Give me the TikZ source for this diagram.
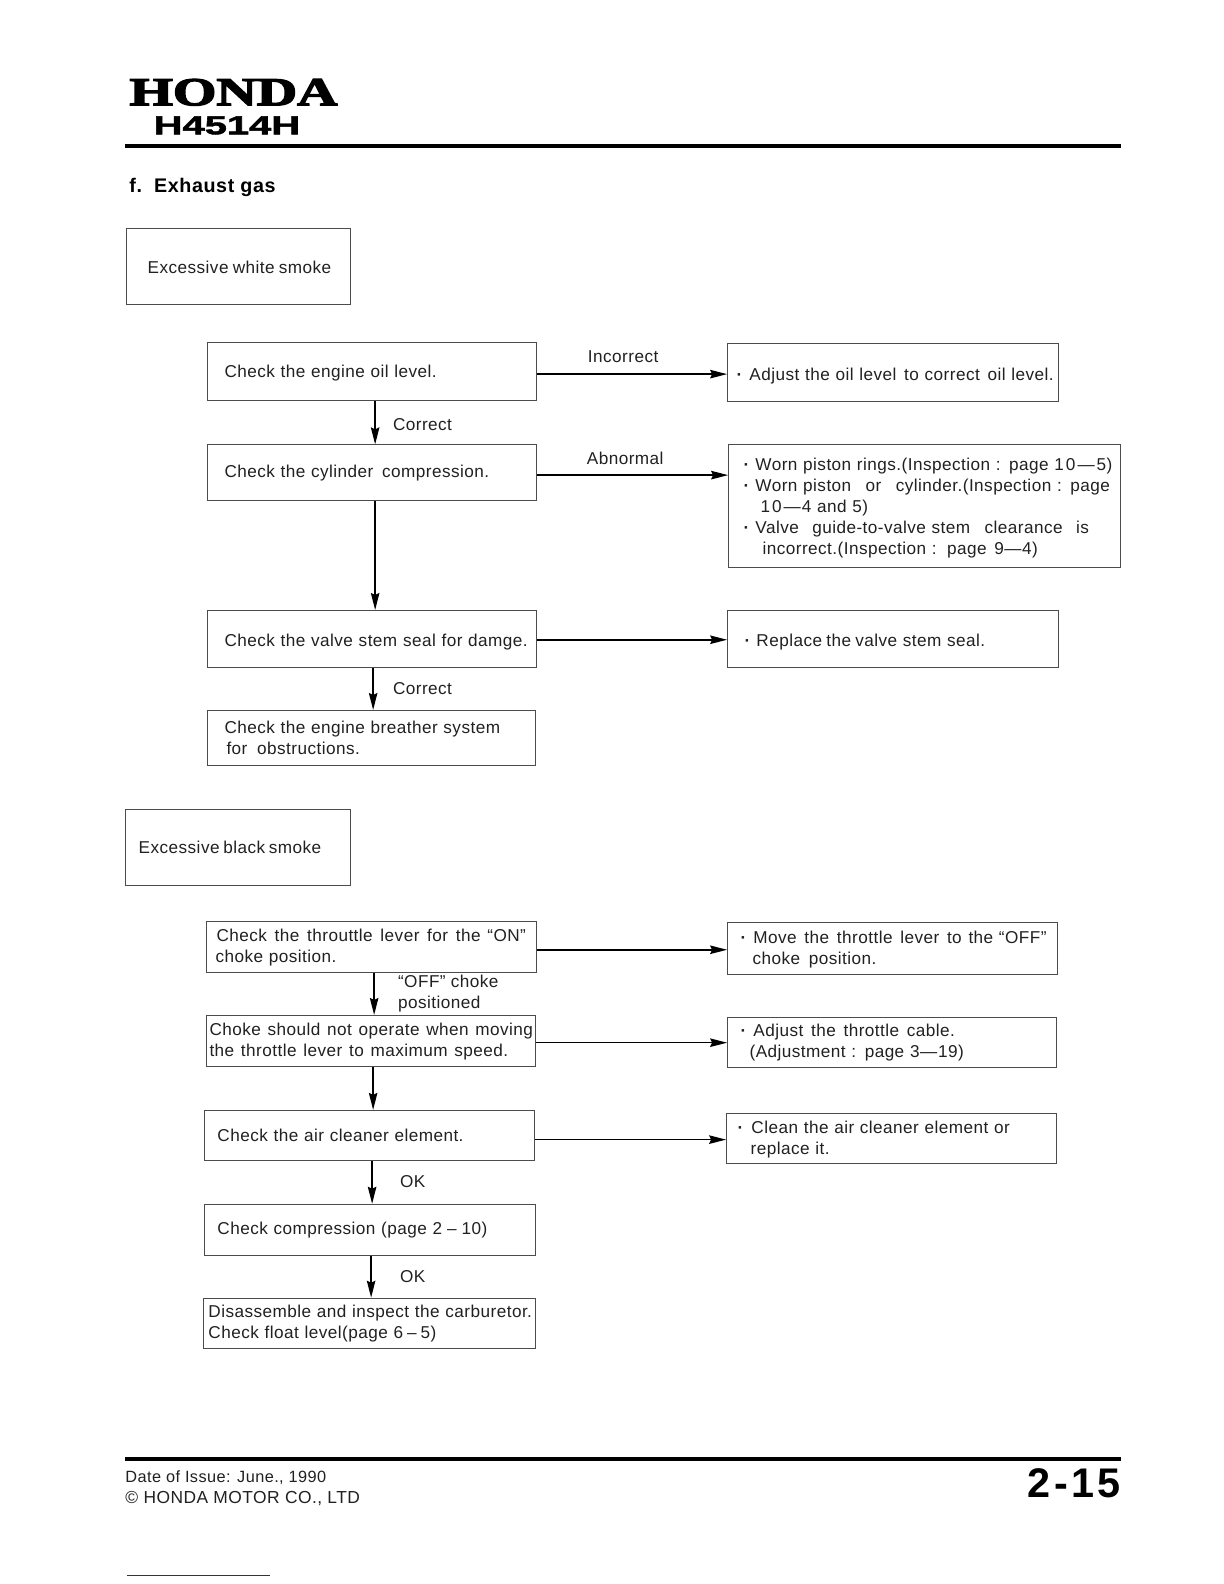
\documentclass[tikz,border=0pt]{standalone}
\usepackage{fontspec}
\usepackage{graphicx}
\setmainfont{Liberation Sans}[LetterSpace=2.6]
\newfontfamily\plainfont{Liberation Sans}
\newfontfamily\pagefont{Liberation Sans}[LetterSpace=8]
\newfontfamily\titlefont{Liberation Sans}[LetterSpace=3]
\newfontfamily\logofont{Liberation Serif}[FakeBold=3]
\newfontfamily\codefont{Liberation Sans}[FakeBold=1.5]
\usetikzlibrary{arrows.meta}
\definecolor{ink}{gray}{0.13}
\definecolor{boxline}{gray}{0.3}
\definecolor{linkblue}{RGB}{20,40,200}
\newcommand{\kk}{1.0099}
\tikzset{
  x=\kk pt,y=-\kk pt,
  boxnode/.style={draw=boxline,line width=1pt,inner sep=0pt,anchor=north west,align=left,text=ink,font=\fontsize{17.17}{21}\selectfont},
  lbl/.style={inner sep=0pt,anchor=west,align=left,text=ink,font=\fontsize{17.17}{21}\selectfont},
  flow/.style={draw=black,line width=1.5pt,-{Stealth[length=17pt,width=8.5pt,inset=2pt]}},
  rule/.style={draw=black,line width=4pt}
}
\newcommand{\flowbox}[6]{%
  \pgfmathsetmacro{\bw}{(#4-#2)*\kk}\pgfmathsetmacro{\bh}{(#5-#3)*\kk}%
  \node[boxnode,minimum width=\bw pt,minimum height=\bh pt,text width=\bw pt] (#1) at (#2,#3) {#6};}
\newcommand{\ind}[1]{\hspace*{#1pt}}
\newcommand{\dotb}{{\fontsize{17}{17}\selectfont\textbf{·}}\ }
\newcommand{\gp}[1]{\hspace{#1pt}}
\newcommand{\dn}[1]{\rule{0pt}{\dimexpr 12.5pt+#1pt*2\relax}}
\begin{document}
\begin{tikzpicture}
\useasboundingbox (0,0) rectangle (1212,1568.5);
\fill[white] (0,0) rectangle (1212,1568.5);
% header
\node[inner sep=0pt,anchor=north west] (logo) at (128,78) {\resizebox{208pt}{26.3pt}{\logofont\bfseries HONDA}};
\node[inner sep=0pt,anchor=north west] (code) at (152,115) {\resizebox{146.5pt}{18pt}{\codefont\bfseries H4514H}};
\coordinate (ruleAl) at (124,145); \coordinate (ruleAr) at (1110,145);
\draw[rule] (ruleAl) -- (ruleAr);
\node[lbl,font=\titlefont\fontsize{19.7}{22}\selectfont\bfseries,text=black] (title) at (128,186) {f.\gp{4} Exhaust gas};
% white smoke
\flowbox{b1}{125}{226}{347}{301}{\dn{1}\ind{21}Excessive\gp{-1.5} white\gp{-1.5} smoke}
\flowbox{c1}{205}{339}{531}{396}{\dn{1}\ind{17}Check the engine oil level.}
\flowbox{r1}{720}{340}{1048}{397}{\dn{3}\ind{9}\dotb\gp{1}Adjust the oil level\gp{2} to correct\gp{2} oil level.}
\flowbox{c2}{205}{440}{531}{495}{\ind{17}Check the cylinder\gp{3} compression.}
\flowbox{r2}{721}{440}{1109}{561}{\dn{2}\ind{15}\dotb Worn piston rings.(Inspection : page 1\gp{2}0\gp{2}—\gp{2}5)\\
  \ind{15}\dotb Worn piston\ \ \gp{3}or\ \ \gp{3}cylinder.(Inspection : page\\
  \ind{32}1\gp{2}0\gp{2}—\gp{1}4 and 5)\\
  \ind{15}\dotb Valve\ \ \gp{2}guide-to-valve stem\ \ \gp{3}clearance\ \ \gp{2}is\\
  \ind{34}incorrect.(Inspection :\gp{2} page\gp{2} 9—4)}
\flowbox{c3}{205}{604}{531}{660}{\dn{3}\ind{17}Check the valve stem seal for damge.}
\flowbox{r3}{720}{604}{1048}{660}{\dn{3}\ind{17}\dotb Replace\gp{-1.5} the\gp{-1.5} valve stem seal.}
\flowbox{c4}{205}{703}{530}{758}{\ind{17}Check the engine breather system\\\ind{19}for\gp{4} obstructions.}
\node[lbl] (incorrect) at (582,353) {Incorrect};
\node[lbl] (correctA) at (389,420) {Correct};
\node[lbl] (abnormal) at (581,454) {Abnormal};
\node[lbl] (correctB) at (389,682) {Correct};
\draw[flow] ([yshift=-2.5pt]c1.east) -- ([yshift=-2.5pt]c1.east -| r1.west);
\draw[flow] ([yshift=-2.5pt]c2.east) -- ([yshift=-2.5pt]c2.east -| r2.west);
\draw[flow] ([yshift=-1pt]c3.east) -- ([yshift=-1pt]c3.east -| r3.west);
\draw[flow] ([xshift=3pt]c1.south) -- ([xshift=3pt]c2.north);
\draw[flow] ([xshift=3pt]c2.south) -- ([xshift=3pt]c3.north);
\draw[flow] ([xshift=1pt]c3.south) -- ([xshift=1pt]c3.south |- c4.north);
% black smoke
\flowbox{b2}{124}{801}{347}{876}{\ind{13}Excessive\gp{-2} black\gp{-2} smoke}
\flowbox{d1}{204}{912}{531}{962}{\dn{1}\ind{10}Check\gp{2} the\gp{2} throuttle\gp{2} lever\gp{2} for\gp{2} the\gp{1} “ON”\\\ind{9}choke position.}
\flowbox{e1}{720}{913}{1047}{964}{\dn{1}\ind{13}\dotb\gp{1}Move\gp{2} the\gp{2} throttle\gp{2} lever\gp{2} to\gp{1} the “OFF”\\\ind{25}choke\gp{3} position.}
\flowbox{d2}{204}{1005}{530}{1056}{\ind{3}Choke\gp{1} should\gp{1} not\gp{1} operate\gp{1} when\gp{1} moving\gp{1}\\\ind{3}the\gp{1} throttle\gp{1} lever\gp{1} to\gp{1} maximum\gp{1} speed.}
\flowbox{e2}{720}{1007}{1046}{1057}{\ind{13}\dotb\gp{1}Adjust\gp{2} the\gp{2} throttle\gp{2} cable.\\\ind{22}(Adjustment : page 3—\gp{1}19)}
\flowbox{d3}{202}{1099}{529}{1149}{\ind{13}Check the air cleaner element.}
\flowbox{e3}{719}{1102}{1046}{1152}{\dn{1}\ind{11}\dotb\gp{2}Clean the air cleaner element or\\\ind{24}replace it.}
\flowbox{d4}{202}{1192}{530}{1243}{\ind{13}Check compression (page 2\gp{5}--\gp{5}10)}
\flowbox{d5}{201}{1285}{530}{1335}{\ind{5}Disassemble and inspect the carburetor.\\\ind{5}Check float level(page 6\gp{4}--\gp{4}5)}
\node[lbl] (offchoke) at (394,984) {“OFF” choke\\positioned};
\node[lbl] (okA) at (396,1170) {OK};
\node[lbl] (okB) at (396,1264) {OK};
\draw[flow] ([yshift=-3pt]d1.east) -- ([yshift=-3pt]d1.east -| e1.west);
\draw[flow] ([yshift=-1.5pt]d2.east) -- ([yshift=-1.5pt]d2.east -| e2.west);
\draw[flow] ([yshift=-4pt]d3.east) -- ([yshift=-4pt]d3.east -| e3.west);
\draw[flow] ([xshift=2.5pt]d1.south) -- ([xshift=2.5pt]d1.south |- d2.north);
\draw[flow] ([xshift=2pt]d2.south) -- ([xshift=2pt]d2.south |- d3.north);
\draw[flow] ([xshift=2.5pt]d3.south) -- ([xshift=2.5pt]d3.south |- d4.north);
\draw[flow] ([xshift=1pt]d4.south) -- ([xshift=1pt]d4.south |- d5.north);
% footer
\coordinate (ruleBl) at (124,1445); \coordinate (ruleBr) at (1110,1445);
\draw[rule] (ruleBl) -- (ruleBr);
\node[lbl,font=\fontsize{16.3}{21}\selectfont] (issue) at (124,1474) {Date of Issue: June., 1990\\{\fontsize{17.4}{21}\selectfont © HONDA MOTOR CO., LTD}};
\node[inner sep=0pt,anchor=east,font=\pagefont\fontsize{41.4}{41}\selectfont\bfseries,text=black] (pageno) at (1110,1469) {2-15};
\coordinate (blueL) at (126,1560); \coordinate (blueR) at (267,1560);
\draw[draw=linkblue,line width=1.2pt] (blueL) -- (blueR);
\end{tikzpicture}
\end{document}
